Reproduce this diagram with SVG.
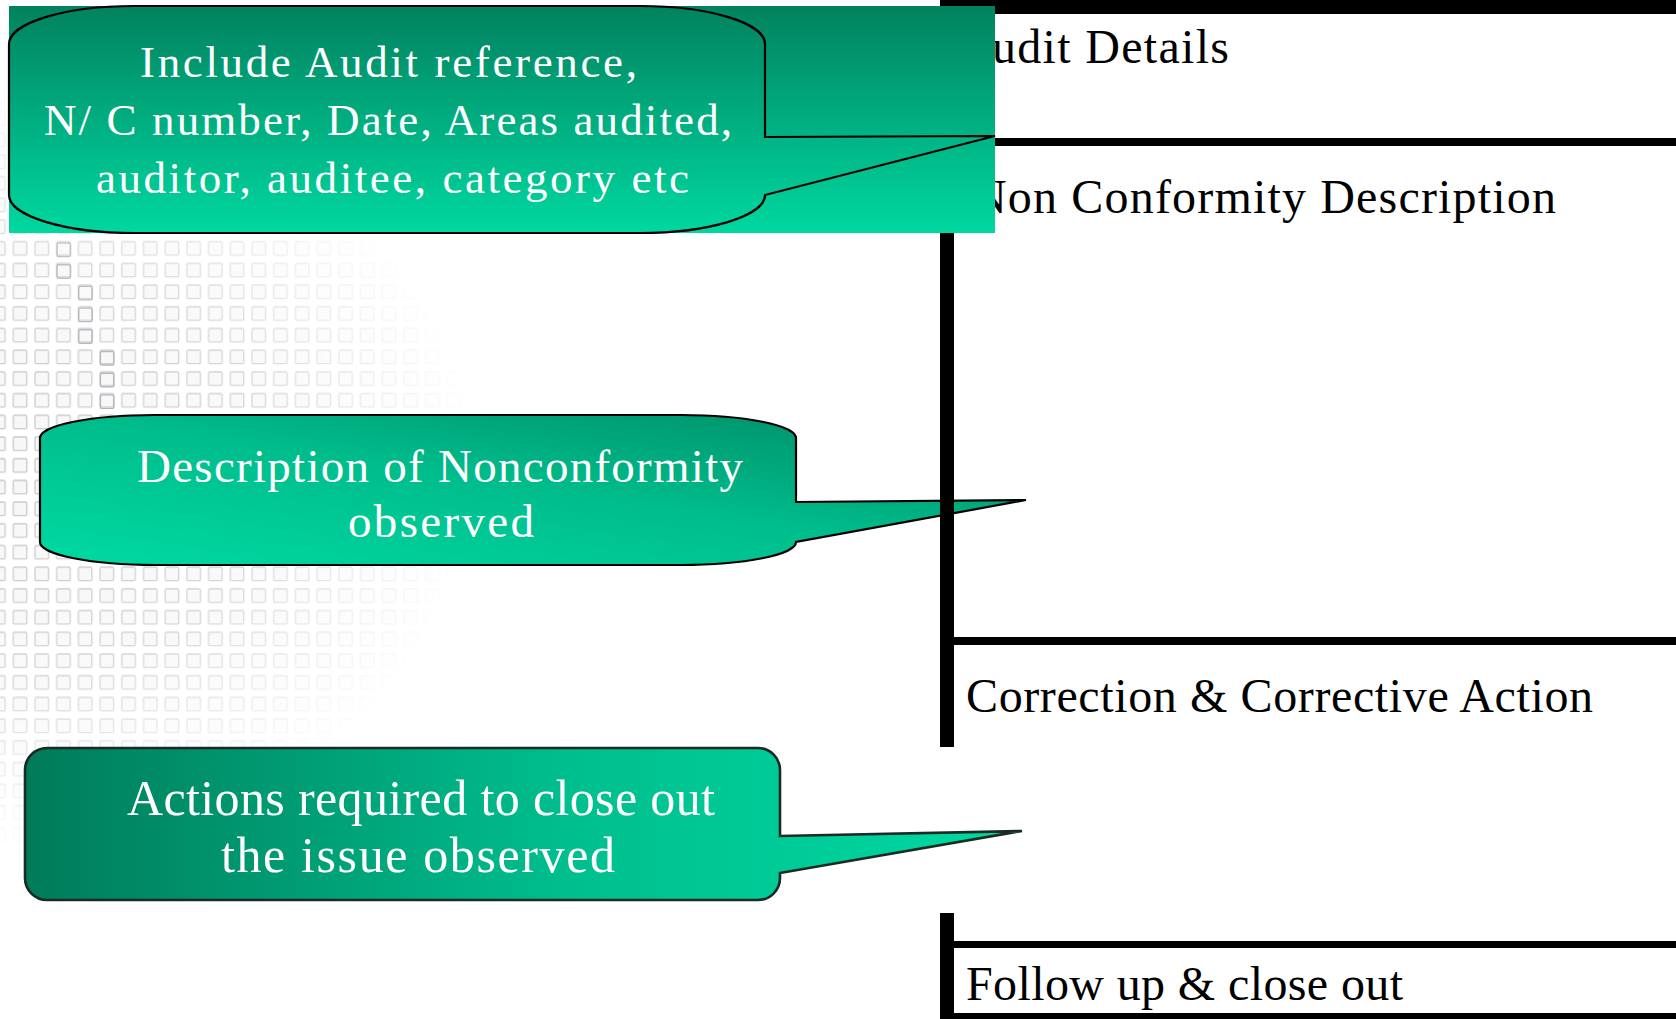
<svg xmlns="http://www.w3.org/2000/svg" width="1676" height="1019" viewBox="0 0 1676 1019">
  <style>
    .tbl { font-family: "Liberation Serif", "Times New Roman", serif; font-size: 48px; fill: #000; }
    .ct { font-family: "Liberation Serif", "Times New Roman", serif; fill: #fff; }
    .bar { fill: #000; }
    .edge { stroke: #000; stroke-width: 2.2; stroke-linejoin: miter; }
  </style>
  <defs>
    <pattern id="grid" patternUnits="userSpaceOnUse" x="11.3" y="1" width="21.7" height="21.7">
      <rect x="2" y="2" width="13.5" height="13.5" rx="1.5" fill="#f7f7f8" stroke="#c4c7cb" stroke-width="1.3"/>
    </pattern>
    <radialGradient id="fadeG" gradientUnits="userSpaceOnUse" cx="0" cy="470" r="480" gradientTransform="translate(0 470) scale(1 0.8) translate(0 -470)">
      <stop offset="0" stop-color="#fff"/>
      <stop offset="0.55" stop-color="#fff" stop-opacity="0.75"/>
      <stop offset="1" stop-color="#fff" stop-opacity="0"/>
    </radialGradient>
    <mask id="fadeM" maskUnits="userSpaceOnUse" x="0" y="0" width="700" height="1019">
      <rect x="0" y="0" width="700" height="1019" fill="url(#fadeG)"/>
    </mask>
    <linearGradient id="g1" gradientUnits="userSpaceOnUse" x1="0" y1="6" x2="0" y2="233">
      <stop offset="0" stop-color="#02825F"/>
      <stop offset="1" stop-color="#00D8A0"/>
    </linearGradient>
    <linearGradient id="g2" x1="1" y1="0" x2="0" y2="1">
      <stop offset="0" stop-color="#008863"/>
      <stop offset="0.5" stop-color="#00BD8C"/>
      <stop offset="1" stop-color="#00DAA2"/>
    </linearGradient>
    <linearGradient id="g3" gradientUnits="userSpaceOnUse" x1="25" y1="0" x2="1022" y2="0">
      <stop offset="0" stop-color="#007B5A"/>
      <stop offset="0.55" stop-color="#00BF8E"/>
      <stop offset="1" stop-color="#00D9A2"/>
    </linearGradient>
  </defs>

  <rect x="0" y="0" width="1676" height="1019" fill="#fff"/>

  <g id="background-grid" mask="url(#fadeM)">
    <rect x="0" y="0" width="700" height="1019" fill="url(#grid)"/>
    <g fill="none" stroke="#a6abb0" stroke-width="1.4">
      <rect x="57" y="243" width="13.5" height="13.5" rx="1.5"/>
      <rect x="57" y="264.7" width="13.5" height="13.5" rx="1.5"/>
      <rect x="78.7" y="286.4" width="13.5" height="13.5" rx="1.5"/>
      <rect x="78.7" y="308.1" width="13.5" height="13.5" rx="1.5"/>
      <rect x="78.7" y="329.8" width="13.5" height="13.5" rx="1.5"/>
      <rect x="100.4" y="351.5" width="13.5" height="13.5" rx="1.5"/>
      <rect x="100.4" y="373.2" width="13.5" height="13.5" rx="1.5"/>
      <rect x="100.4" y="394.9" width="13.5" height="13.5" rx="1.5"/>
    </g>
  </g>

  <g id="callout-nonconformity">
    <path class="edge" fill="url(#g2)" d="M155,415 H681 A115 23 0 0 1 796,438 V502 L1026,500 L796,542 A115 23 0 0 1 681,565 H155 A115 23 0 0 1 40,542 V438 A115 23 0 0 1 155,415 Z"/>
    <text class="ct" font-size="47" x="137" y="482" textLength="606">Description of Nonconformity</text>
    <text class="ct" font-size="47" x="348" y="537" textLength="186">observed</text>
  </g>

  <g id="callout-actions">
    <path fill="url(#g3)" stroke="#1b2a22" stroke-width="2.6" d="M47,748 H758 A22 22 0 0 1 780,770 V836 L1022,831 L780,873 V878 A22 22 0 0 1 758,900 H47 A22 22 0 0 1 25,878 V770 A22 22 0 0 1 47,748 Z"/>
    <text class="ct" font-size="50" x="127" y="815" textLength="588">Actions required to close out</text>
    <text class="ct" font-size="50" x="221" y="872" textLength="394">the issue observed</text>
  </g>

  <g id="nc-form">
    <g id="form-lines">
      <rect class="bar" x="940" y="0" width="14" height="747"/>
      <rect class="bar" x="940" y="913" width="14" height="106"/>
      <rect class="bar" x="940" y="0" width="736" height="14"/>
      <rect class="bar" x="940" y="138" width="736" height="8"/>
      <rect class="bar" x="940" y="637" width="736" height="8"/>
      <rect class="bar" x="940" y="941" width="736" height="7"/>
      <rect class="bar" x="940" y="1013" width="736" height="6"/>
    </g>
    <g id="row-audit-details">
      <text class="tbl" x="956" y="63" textLength="273">Audit Details</text>
    </g>
    <g id="row-nc-description">
      <text class="tbl" x="972" y="213" textLength="584">Non Conformity Description</text>
    </g>
    <g id="row-correction">
      <text class="tbl" x="966" y="712" textLength="627">Correction &amp; Corrective Action</text>
    </g>
    <g id="row-follow-up">
      <text class="tbl" x="966" y="1000" textLength="437">Follow up &amp; close out</text>
    </g>
  </g>

  <g id="callout-audit">
    <rect x="9" y="6" width="986" height="227" fill="url(#g1)"/>
    <path class="edge" fill="url(#g1)" d="M134,6 H640 A125 38 0 0 1 765,44 V137 L995,136 L765,195 A125 38 0 0 1 640,233 H134 A125 38 0 0 1 9,195 V44 A125 38 0 0 1 134,6 Z"/>
    <text class="ct" font-size="45" x="140" y="77" textLength="497">Include Audit reference,</text>
    <text class="ct" font-size="45" x="44" y="135" textLength="688">N/ C number, Date, Areas audited,</text>
    <text class="ct" font-size="45" x="96" y="193" textLength="593">auditor, auditee, category etc</text>
  </g>

  <g id="connectors"/>
</svg>
